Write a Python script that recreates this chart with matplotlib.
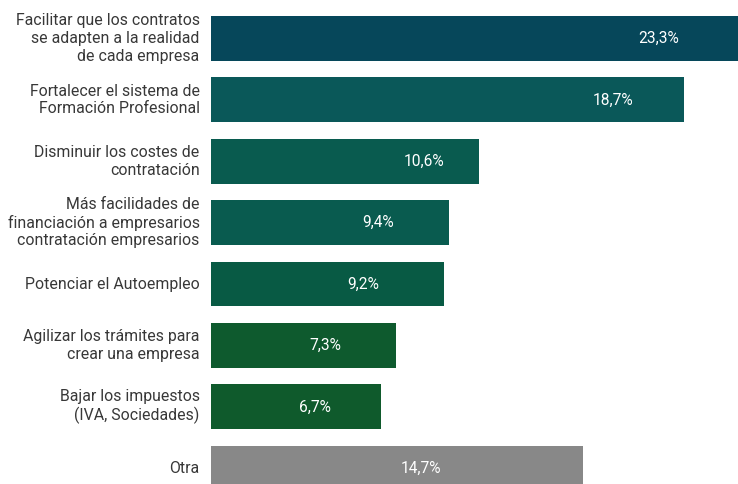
import matplotlib
matplotlib.use("Agg")
import matplotlib.pyplot as plt

categories = [
    "Facilitar que los contratos\nse adapten a la realidad\nde cada empresa",
    "Fortalecer el sistema de\nFormación Profesional",
    "Disminuir los costes de\ncontratación",
    "Más facilidades de\nfinanciación a empresarios\ncontratación empresarios",
    "Potenciar el Autoempleo",
    "Agilizar los trámites para\ncrear una empresa",
    "Bajar los impuestos\n(IVA, Sociedades)",
    "Otra",
]
values = [23.3, 18.7, 10.6, 9.4, 9.2, 7.3, 6.7, 14.7]
value_labels = ["23,3%", "18,7%", "10,6%", "9,4%", "9,2%", "7,3%", "6,7%", "14,7%"]

colors = ["#06475a", "#0a5859", "#095b4f", "#095b4f", "#085a44", "#0e5a2e", "#0f5a2c", "#888888"]
# label offsets from bar end (data units)
label_back = [5.6, 2.8, 2.2, 2.8, 3.2, 2.8, 2.6, 6.4]

fig = plt.figure(figsize=(7.38, 4.84), dpi=100)
ax = fig.add_axes([211 / 738, 0, 1 - 211 / 738, 1])

y = list(range(len(values)))
ax.barh(y, values, height=0.73, color=colors)
ax.set_xlim(0, 20.83)
ax.set_ylim(7.256, -0.627)

for i, (v, lab) in enumerate(zip(values, value_labels)):
    ax.text(v - label_back[i], i, lab, color="white", ha="center", va="center",
            fontsize=11.2, family="Roboto")

for i, c in enumerate(categories):
    ax.text(-0.45, i, c, ha="right", va="center", fontsize=11.4, family="Roboto",
            color="#383838", linespacing=1.22)

ax.axis("off")
fig.savefig("out.png", dpi=100)
